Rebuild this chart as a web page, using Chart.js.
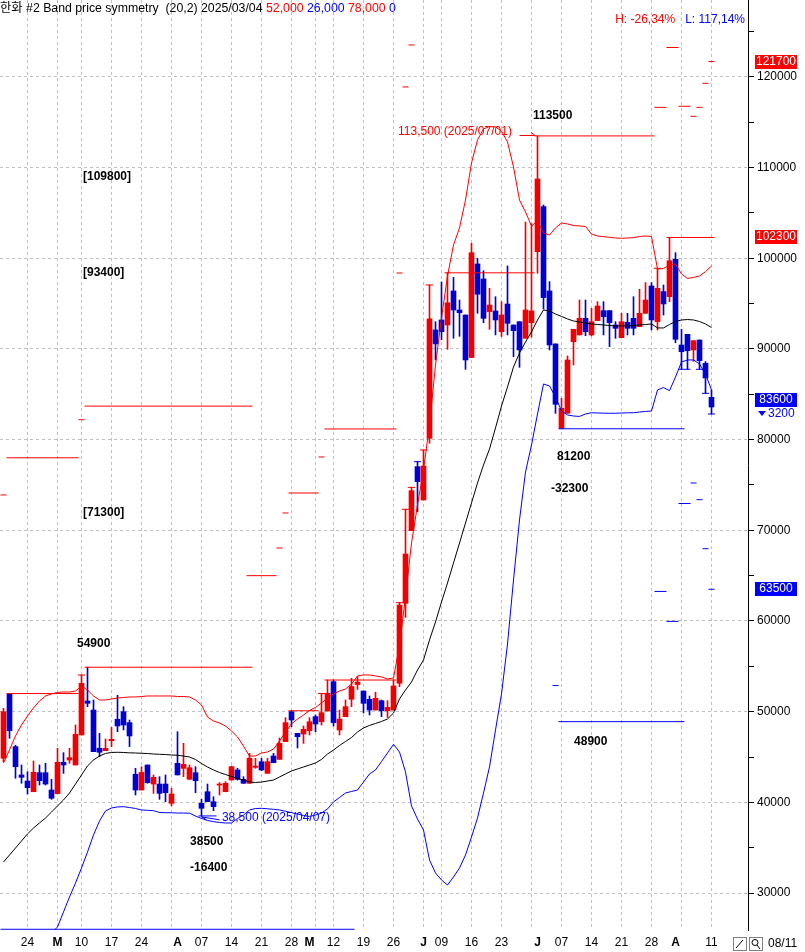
<!DOCTYPE html>
<html><head><meta charset="utf-8">
<script src="https://cdn.jsdelivr.net/npm/chart.js@4.4.1/dist/chart.umd.min.js"></script>
<style>html,body{margin:0;padding:0;background:#fff;}#wrap{width:805px;height:952px;position:relative;}</style>
</head><body><div id="wrap"><canvas id="c" width="805" height="952"></canvas></div>
<script>
// ---------------- DATA ----------------
const opens = [44860,51910,46140,43020,42350,41170,43270,43270,41360,40950,
44410,44670,44120,47430,51180,50180,45960,45700,46800,49160,
50000,48790,43100,41360,44120,42020,42020,42020,39890,44300,
43750,42540,43270,39890,41170,40070,41910,41170,42460,43570,
42540,42100,43860,44480,43200,45110,44740,46690,50000,47610,
47540,47900,49450,48890,50070,53310,47980,49450,51370,52990,
52280,51360,50180,51210,50100,50180,53130,61950,69960,77020,
73350,80150,92100,93200,92650,96400,94300,93750,89060,99380,
97720,94120,94190,91910,94960,92650,93010,91180,92900,100730,
105700,96400,90560,81250,82910,90810,91550,93380,91550,93130,
94230,94230,92650,91250,92940,93380,92460,93930,96950,93010,
96330,95770,99890,90440,91620,89890,90990,88420,84670];
const highs = [50370,52000,46300,44120,43380,44560,44120,44300,42540,45960,
45480,45960,48530,54040,54900,51290,47610,46990,48270,51800,
50550,49080,43750,43930,44120,43020,42830,43020,41550,47790,
46510,44120,43930,40330,42020,40620,42170,42280,44000,43750,
42830,45410,44860,44860,44860,45400,47100,49340,50110,47610,
48420,49340,49630,52000,53490,53490,50180,51290,53680,53860,
52280,51730,52140,51290,51220,53490,62020,72320,74740,77570,
78860,97060,93010,97390,98400,97900,95400,93750,101660,100000,
98630,96690,95770,95220,99160,92650,93010,104000,103800,113500,
105880,97430,90560,84560,89230,92170,95400,95400,94480,95220,
95220,94230,93010,93930,93930,95770,96580,97320,97320,98900,
97060,102300,100620,92170,91620,90920,90990,88610,85480];
const lows = [44480,47060,42650,42100,40920,41170,41910,41910,40330,40950,
43200,44300,44120,47430,50550,45590,45040,45700,46140,47790,
47980,46140,40810,41360,42100,40990,40330,40070,39600,43020,
42830,42540,41060,38500,40070,39080,40810,41170,42460,42460,
42100,42100,43750,43500,43200,44370,44740,46690,48330,45990,
46500,47430,47790,48530,50070,48420,47430,49450,50550,52450,
49860,49630,50180,49450,49350,50180,52760,60400,69960,72070,
73350,79600,88790,91020,89960,91180,91400,87760,89060,93940,
92900,92170,91550,91370,91550,89150,87980,91180,91300,98350,
94400,89890,82900,81200,82910,88240,91550,91470,91440,93130,
91550,90260,91180,91250,91550,91550,92460,93930,92100,92100,
93740,95220,90700,87760,87760,88640,87760,85110,82830];
const closes = [50000,47900,43930,42760,41620,43310,42390,42020,40450,44410,
44120,44930,47500,53130,50920,45590,45520,45960,46950,48420,
48530,47320,41360,43300,42170,42760,40990,41060,40920,43020,
44190,43820,42390,39340,40070,39520,42020,42100,43930,42540,
42100,44860,44000,43570,44480,44370,46500,48790,49080,47240,
48050,48890,48640,49890,52030,48790,49190,50550,52770,53270,
50920,50180,51470,50100,50480,52830,61760,67390,74370,75370,
77090,93320,90560,91910,95100,94300,94000,88790,100620,96040,
93380,94850,93200,93750,92830,92020,89890,94300,94200,108750,
95670,90440,83900,83460,88790,92170,93380,91910,93010,94740,
93560,92900,92280,93010,92280,92280,93930,95400,93200,96690,
94970,99740,91070,89700,89810,90920,88710,86800,83600];
// Bollinger (20,2)
const bandMid = [33420,34190,34960,35740,36510,37170,37720,38270,38930,39600,
40260,41030,42020,43020,44010,44670,45110,45390,45500,45520,
45500,45460,45440,45410,45380,45330,45300,45270,45220,45190,
45110,45000,44730,44280,43900,43570,43290,43070,42850,42630,
42460,42240,42190,42240,42350,42460,42800,43130,43460,43680,
43900,44120,44340,44730,45330,45770,46270,46710,47150,47760,
48200,48480,48700,48920,49190,49850,51400,52390,53270,54600,
55700,57910,59890,62100,64190,66400,68600,70810,73020,75220,
77210,78970,81290,83710,85810,88020,89560,90770,91880,93200,
94300,94190,93860,93590,93310,93090,92980,92870,92760,92700,
92650,92590,92540,92540,92540,92590,92650,92700,92760,92320,
92320,92700,93030,93200,93250,93200,93030,92760,92370];
const bandUpper = [44340,45770,47320,48530,49520,50410,51180,51730,51950,52120,
52170,52170,52280,52830,52390,51730,51290,51290,51400,51510,
51560,51620,51620,51670,51730,51730,51730,51730,51730,51670,
51670,51620,51290,50740,49410,48970,48750,48420,47870,47210,
46210,45110,45110,45440,45550,45880,46770,47760,48640,49190,
49630,50130,50460,50960,51510,51950,52280,52500,53050,53940,
54050,54050,53940,53830,53600,53710,57350,62650,68600,72800,
76660,81620,88240,93420,98050,101470,103350,106430,110520,113050,
114270,114540,114490,114040,112830,110070,106430,105110,103570,104120,
102800,102570,103350,103900,103790,103620,103570,103510,102680,102460,
102390,102320,102240,102210,102240,102280,102410,102460,102410,98820,
98880,99270,99380,98270,97780,97890,98050,98530,99160];
const bandLower = [null,null,null,null,null,null,null,24800,25590,26250,
27910,29560,31100,32760,34520,36400,37940,39050,39380,39490,
39520,39430,39320,39160,39120,39080,38880,38860,38850,38820,
38820,38800,38490,38220,38000,37870,37780,37720,37720,38220,
38600,39160,39320,39340,39290,39230,39160,39010,38860,38710,
38550,38440,38600,38820,39270,40040,40530,41030,41200,41360,
42240,43130,43570,44500,45440,46400,45550,43350,39600,38160,
36950,33640,32210,31430,30880,31770,32760,34190,36180,38270,
41030,43900,47980,51950,57460,64520,71140,76430,79410,82830,
86140,85920,84710,83160,82720,82610,82560,82830,82970,82940,
82920,82910,82910,82940,82960,82970,83050,83110,83160,85480,
85750,85400,86910,88570,88790,88790,88350,87240,85480];
// x axis: week-start trading-day indices and labels
const weekStarts = [4,9,13,18,23,28,33,38,43,48,52,55,60,65,70,73,78,83,88,93,98,103,108,113,118];
const xLabelIdx = [4,9,13,18,23,29,33,38,43,48,51,55,60,65,70,73,78,83,89,93,98,103,108,112,118];
const xLabelTxt = ['24','M','10','17','24','A','07','14','21','28','M','12','19','26','J','09','16','23','J','07','14','21','28','A','11'];
const yTickValues = [30000,35000,40000,45000,50000,55000,60000,65000,70000,75000,80000,85000,90000,95000,100000,105000,110000,115000,120000,125000];
// level lines [fromIndex, toIndex, price]
const redLevels = [[0.5,12.5,52000],[13.5,41.5,54900],[47.5,52.5,50100],[53.5,65.5,53490],[73.5,88.5,98400],[88.5,108.5,113500],[110.5,118.5,102300]];
const blueLevels = [[-0.5,58.5,26000],[32.5,35.5,38500],[92.5,113.5,81200],[92.5,113.5,48900],[112.5,114.5,87760]];
// symmetry projection marks [fromIndex, toIndex, price]
const redMarks = [[0.5,12.5,78000],[-0.5,0.5,73900],[12.5,13.5,82200],[13.5,41.5,83700],[40.5,45.5,65000],[45.5,46.5,68050],[46.5,47.5,71910],[47.5,52.5,74120],[52.5,53.5,78090],[53.5,65.5,81180],[65.5,66.5,98380],[66.5,67.5,118900],[67.5,68.5,123530],[108.5,110.5,116650],[110.5,112.5,123250],[112.5,114.5,116770],[114.5,115.5,115660],[115.5,116.5,116650],[116.5,117.5,119300],[117.5,118.5,121700]];
const blueMarks = [[91.5,92.5,52880],[108.5,110.5,63260],[110.5,112.5,59960],[112.5,114.5,72960],[114.5,115.5,75220],[115.5,116.5,73380],[116.5,117.5,67970],[117.5,118.5,63500]];
const capHighIdx = [13,53,66,67,68,69,70,71,109];
const capLowIdx = [116,117,118];
const priceTags = [[121700,'red'],[102300,'red'],[83600,'blue'],[63500,'blue']];
const lastChange = -3200;

// ---------------- STYLE ----------------
const FONT = '"Liberation Sans", Arial, "Noto Sans CJK KR", sans-serif';
const RED = '#f00000', BLUE = '#0000d0', LRED = '#ff0000', LBLUE = '#0000ff';
const GRID = '#c0c0c0';
const idx = opens.map((_, i) => i);
const cColor = i => closes[i] >= opens[i] ? RED : BLUE;
const labelMap = {}; xLabelIdx.forEach((v, k) => labelMap[v] = xLabelTxt[k]);
const gridSet = new Set(weekStarts);

const seg = (a, b, p, color, order) => ({type: 'line', data: [{x: a, y: p}, {x: b, y: p}], borderColor: color, borderWidth: 1, pointRadius: 0, order: order});

const datasets = [];
datasets.push({type: 'bar', data: idx.map(i => ({x: i, y: [lows[i], highs[i]]})), backgroundColor: idx.map(cColor), barThickness: 1, grouped: false, borderWidth: 0, order: 9});
datasets.push({type: 'bar', data: idx.map(i => ({x: i, y: [opens[i], closes[i]]})), backgroundColor: idx.map(cColor), barThickness: 5, grouped: false, borderWidth: 0, minBarLength: 1, order: 8});
capHighIdx.forEach(i => datasets.push(seg(i - 0.6, i + 0.6, highs[i], cColor(i), 7)));
capLowIdx.forEach(i => datasets.push(seg(i - 0.6, i + 0.6, lows[i], cColor(i), 7)));
datasets.push({type: 'line', data: idx.map(i => ({x: i, y: bandMid[i]})), borderColor: '#000', borderWidth: 1, pointRadius: 0, order: 3});
datasets.push({type: 'line', data: idx.map(i => ({x: i, y: bandUpper[i]})), borderColor: LRED, borderWidth: 1, pointRadius: 0, order: 3});
datasets.push({type: 'line', data: idx.map(i => ({x: i, y: bandLower[i]})), borderColor: LBLUE, borderWidth: 1, pointRadius: 0, order: 3, spanGaps: false});
redLevels.forEach(l => datasets.push(seg(l[0], l[1], l[2], LRED, 2)));
blueLevels.forEach(l => datasets.push(seg(l[0], l[1], l[2], LBLUE, 2)));
redMarks.forEach(l => datasets.push(seg(l[0], l[1], l[2], LRED, 2)));
blueMarks.forEach(l => datasets.push(seg(l[0], l[1], l[2], LBLUE, 2)));

// text notes placed in data coordinates
const notes = [
  ['[109800]', 13.25, 108970, '#000', true],
  ['[93400]', 13.25, 98380, '#000', true],
  ['[71300]', 13.25, 71910, '#000', true],
  ['54900', 12.25, 57460, '#000', true],
  ['38500', 31.1, 35630, '#000', true],
  ['-16400', 31.1, 32760, '#000', true],
  ['113500', 88.25, 115700, '#000', true],
  ['113,500 (2025/07/01)', 65.75, 113930, LRED, false],
  ['81200', 92.25, 78090, '#000', true],
  ['-32300', 91.25, 74560, '#000', true],
  ['48900', 95.1, 46650, '#000', true],
  ['38,500 (2025/04/07)', 36.4, 38270, LBLUE, false]
];

const overlay = {
  id: 'overlay',
  beforeDraw(chart) {
    const ctx = chart.ctx; ctx.save(); ctx.fillStyle = '#fff'; ctx.fillRect(0, 0, chart.width, chart.height); ctx.restore();
  },
  afterDatasetsDraw(chart) {
    const {ctx} = chart; const x = chart.scales.x, y = chart.scales.y;
    ctx.save();
    ctx.textBaseline = 'middle';
    notes.forEach(n => {
      ctx.font = (n[4] ? 'bold ' : '') + '12px ' + FONT;
      ctx.fillStyle = n[3]; ctx.textAlign = 'left';
      ctx.fillText(n[0], x.getPixelForValue(n[1]), y.getPixelForValue(n[2]));
    });
    // red arrow toward the 113,500 high
    ctx.strokeStyle = LRED; ctx.lineWidth = 1;
    const ax1 = x.getPixelForValue(86.0), ax2 = x.getPixelForValue(88.6), ay = Math.round(y.getPixelForValue(113500)) + 0.5 - 1;
    ctx.beginPath(); ctx.moveTo(ax1, ay); ctx.lineTo(ax2, ay); ctx.moveTo(ax2 - 4, ay - 3); ctx.lineTo(ax2, ay); ctx.stroke();
    // blue arrow toward the 38,500 low
    ctx.strokeStyle = LBLUE;
    const bx1 = x.getPixelForValue(33.0), bx2 = x.getPixelForValue(36.0), by = y.getPixelForValue(38400);
    ctx.beginPath(); ctx.moveTo(bx1, by); ctx.lineTo(bx2, by + 3); ctx.moveTo(bx1, by); ctx.lineTo(bx1 + 5, by + 3); ctx.stroke();
    ctx.restore();
  },
  afterDraw(chart) {
    const {ctx} = chart; const y = chart.scales.y;
    ctx.save();
    ctx.textBaseline = 'middle';
    ctx.font = '12.3px ' + FONT;
    // header
    const parts = [['한화 #2 Band price symmetry  (20,2) 2025/03/04 ', '#000'], ['52,000 ', LRED], ['26,000 ', LBLUE], ['78,000 ', LRED], ['0', LBLUE]];
    let xx = 0;
    parts.forEach(p => { ctx.fillStyle = p[1]; ctx.textAlign = 'left'; ctx.fillText(p[0], xx, 9); xx += ctx.measureText(p[0]).width; });
    ctx.font = '12px ' + FONT;
    // H / L ratios
    const H = Math.max(...highs), L = Math.min(...lows), last = closes[closes.length - 1];
    const fmt = v => (v >= 0 ? '' : '-') + Math.abs(v).toFixed(2).replace('.', ',') + '%';
    ctx.textAlign = 'right';
    ctx.fillStyle = LBLUE; const lTxt = 'L: ' + fmt((last / L - 1) * 100);
    ctx.fillText(lTxt, 745, 20);
    const lw = ctx.measureText(lTxt).width;
    ctx.fillStyle = LRED; ctx.fillText('H: ' + fmt((last / H - 1) * 100), 745 - lw - 10, 20);
    // right price tags
    ctx.textAlign = 'center';
    priceTags.forEach(t => {
      let cy = Math.round(y.getPixelForValue(t[0]));
      if (t[0] === last) cy -= 7;
      ctx.fillStyle = t[1] === 'red' ? '#ff0000' : '#0000ff';
      ctx.fillRect(755, cy - 7, 42, 14);
      ctx.fillStyle = '#fff';
      ctx.fillText(String(t[0]), 776, cy);
      if (t[0] === last) {
        ctx.fillStyle = LBLUE;
        ctx.beginPath(); ctx.moveTo(758, cy + 11); ctx.lineTo(766, cy + 11); ctx.lineTo(762, cy + 16); ctx.closePath(); ctx.fill();
        ctx.textAlign = 'left';
        ctx.fillText(String(Math.abs(lastChange)), 768, cy + 14);
        ctx.textAlign = 'center';
      }
    });
    // bottom right icons and date
    ctx.strokeStyle = '#808080'; ctx.lineWidth = 1;
    ctx.strokeRect(733.5, 937.5, 13, 13); ctx.strokeRect(749.5, 937.5, 13, 13);
    ctx.strokeStyle = '#000';
    ctx.beginPath(); ctx.moveTo(736, 948); ctx.lineTo(743, 940); ctx.stroke();
    ctx.beginPath(); ctx.arc(755, 942.5, 3, 0, Math.PI * 2); ctx.moveTo(757, 945); ctx.lineTo(760, 949); ctx.stroke();
    ctx.fillStyle = '#000'; ctx.textAlign = 'left'; ctx.font = '12px ' + FONT;
    ctx.fillText('08/11', 768, 944);
    ctx.restore();
  }
};

new Chart(document.getElementById('c'), {
  type: 'bar',
  data: {datasets: datasets},
  options: {
    responsive: false, maintainAspectRatio: false, animation: false, events: [],
    layout: {padding: 0},
    plugins: {legend: {display: false}, tooltip: {enabled: false}},
    scales: {
      x: {
        type: 'linear', position: 'bottom', offset: false,
        min: -0.5833, max: 124.083,
        afterBuildTicks: s => { const all = Array.from(new Set(weekStarts.concat(xLabelIdx))).sort((a, b) => a - b); s.ticks = all.map(v => ({value: v})); },
        afterFit: s => { s.height = 22; s.paddingLeft = 0; s.paddingRight = 0; s.paddingTop = 0; s.paddingBottom = 0; },
        grid: {offset: false, drawTicks: false, color: c => (c.tick && gridSet.has(c.tick.value)) ? GRID : 'rgba(0,0,0,0)'},
        border: {display: false, dash: [3, 3]},
        ticks: {
          autoSkip: false, maxRotation: 0, includeBounds: false, padding: 5, color: '#000',
          callback: v => labelMap[v] || '',
          font: c => ({family: FONT, size: 12, weight: (c.tick && /^[MAJ]$/.test(labelMap[c.tick.value] || '')) ? 'bold' : 'normal'})
        }
      },
      y: {
        type: 'linear', position: 'right', min: 25920, max: 128490,
        afterBuildTicks: s => { s.ticks = yTickValues.map(v => ({value: v})); },
        afterFit: s => { s.width = 57; s.paddingTop = 0; s.paddingBottom = 0; s.paddingLeft = 0; s.paddingRight = 0; },
        grid: {drawTicks: true, tickLength: 6, tickColor: '#000', color: c => (c.tick && c.tick.value % 10000 === 0) ? GRID : 'rgba(0,0,0,0)'},
        border: {display: true, color: '#000', width: 1, dash: [3, 3]},
        ticks: {includeBounds: false, padding: 3, color: '#000', font: {family: FONT, size: 12}, callback: v => v % 10000 === 0 ? String(v) : ''}
      }
    }
  },
  plugins: [overlay]
});
</script>
</body></html>
